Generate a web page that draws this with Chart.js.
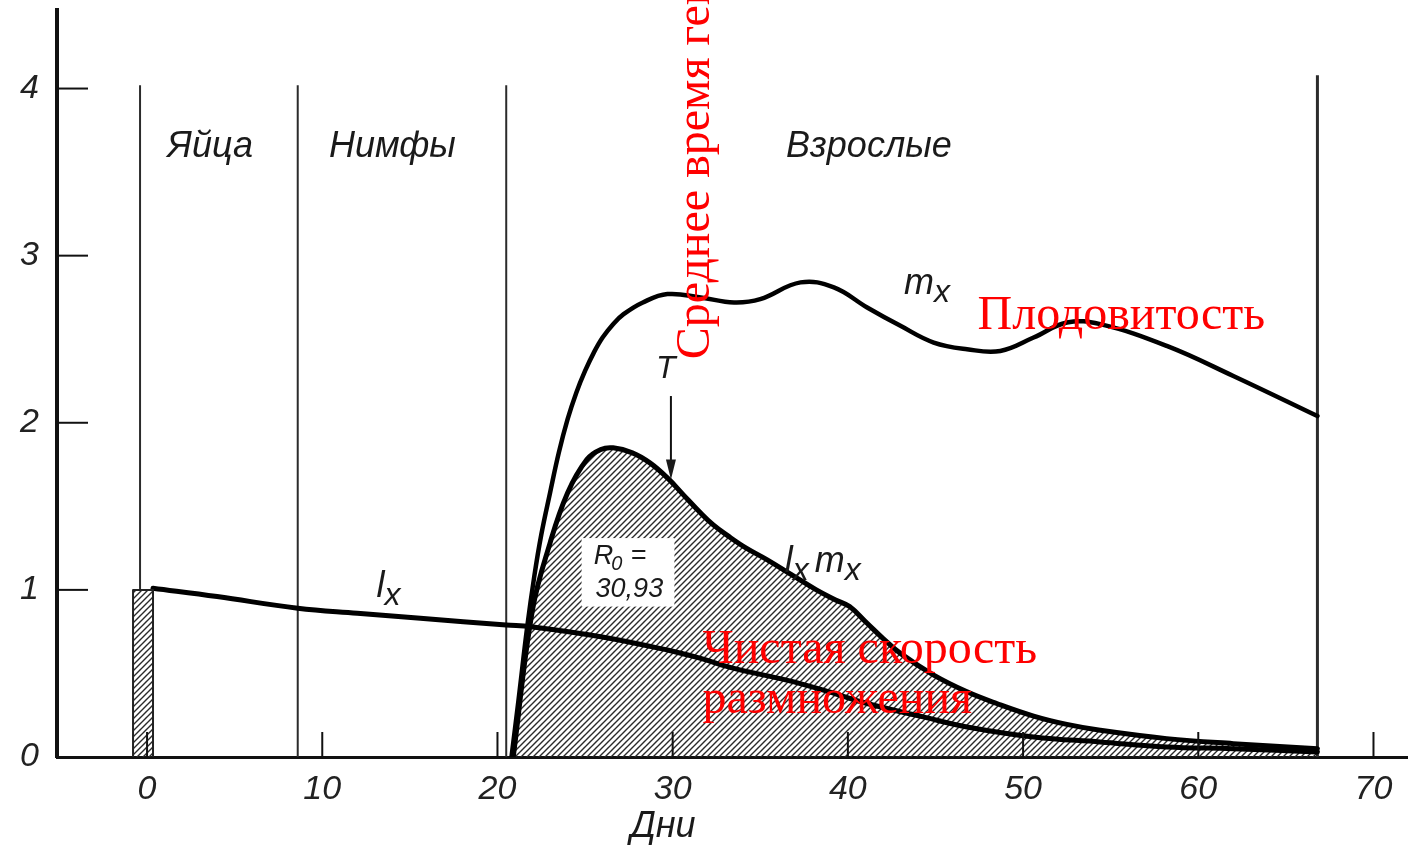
<!DOCTYPE html>
<html lang="ru">
<head>
    <meta charset="UTF-8">
    <title>Таблица выживания и плодовитости</title>
    <script src="https://cdn.jsdelivr.net/npm/chart.js"></script>
    <style>
        * { margin: 0; padding: 0; box-sizing: border-box; }
        body { background: #fff; width: 1408px; height: 846px; overflow: hidden; }
        canvas { display: block; }
    </style>
</head>
<body>
    <canvas id="grafico" width="1408" height="846"></canvas>

    <script>
        // данные
        const xTicks = [0, 10, 20, 30, 40, 50, 60, 70];
        const yTicks = [0, 1, 2, 3, 4];

        const lxDays = [0.34, 4, 8.6, 12, 15.6, 20.5, 21.9, 25.9, 29.7, 31.6, 33.5, 36.5, 38.6, 41.1, 44.3, 46.8, 50.6, 54.4, 58.2, 62, 66.8];
        const lxVals = [1.01, 0.96, 0.89, 0.86, 0.83, 0.79, 0.78, 0.72, 0.64, 0.59, 0.53, 0.46, 0.40, 0.32, 0.24, 0.18, 0.12, 0.09, 0.06, 0.05, 0.03];

        const mxDays = [20.8, 21.2, 21.7, 22.1, 22.5, 23.0, 23.5, 24.0, 24.5, 25.0, 25.5, 26.0, 26.6, 27.2, 28.3, 29.7, 31.6, 33.5, 35.0, 37.3, 39.2, 41.1, 43.0, 44.9, 46.8, 48.7, 50.6, 52.5, 54.4, 58.2, 62.0, 66.8];
        const mxVals = [0, 0.34, 0.78, 1.08, 1.33, 1.58, 1.82, 2.02, 2.18, 2.31, 2.42, 2.51, 2.59, 2.65, 2.72, 2.77, 2.75, 2.72, 2.74, 2.84, 2.81, 2.69, 2.58, 2.48, 2.44, 2.43, 2.51, 2.60, 2.59, 2.46, 2.28, 2.04];

        const lxmxDays = [20.9, 22.0, 23.0, 24.0, 25.1, 25.9, 26.6, 27.7, 28.7, 29.7, 30.6, 31.5, 32.3, 33.2, 34.2, 35.4, 36.8, 38.2, 39.3, 40.1, 41.1, 42.0, 43.0, 44.9, 46.8, 48.5, 50.6, 52.5, 54.4, 58.2, 62.0, 66.8];
        const lxmxVals = [0, 0.88, 1.28, 1.58, 1.78, 1.84, 1.85, 1.82, 1.76, 1.67, 1.57, 1.47, 1.39, 1.32, 1.25, 1.18, 1.09, 1.00, 0.94, 0.90, 0.80, 0.71, 0.62, 0.49, 0.39, 0.32, 0.245, 0.195, 0.16, 0.11, 0.08, 0.05];

        // столбик яиц (день 0)
        const eggDays = [-0.8, -0.8, 0.34, 0.34];
        const eggVals = [0, 1, 1, 0];

        // границы стадий
        const stageDays = [-0.4, 8.6, 20.5, 66.8];
        const stageTop = [4.02, 4.02, 4.02, 4.08];
        const stageBottom = [1, 0, 0, 0];

        const stageNames = ['Яйца', 'Нимфы', 'Взрослые'];
        const stageNameX = [3.6, 14.0, 41.2];

        const toPoints = (xs, ys) => xs.map((x, i) => ({ x: x, y: ys[i] }));

        // штриховка
        function hatch() {
            const c = document.createElement('canvas');
            c.width = 6; c.height = 6;
            const g = c.getContext('2d');
            g.strokeStyle = '#2a2a2a';
            g.lineWidth = 1.4;
            g.beginPath();
            g.moveTo(0, 6); g.lineTo(6, 0);
            g.moveTo(-1, 1); g.lineTo(1, -1);
            g.moveTo(5, 7); g.lineTo(7, 5);
            g.stroke();
            return g.createPattern(c, 'repeat');
        }
        const pattern = hatch();

        const labelFont = '"Liberation Sans", Arial, sans-serif';
        const redFont = '48px "Liberation Serif", "Times New Roman", serif';

        const decor = {
            id: 'decor',
            beforeDatasetsDraw(chart) {
                const ctx = chart.ctx, x = chart.scales.x, y = chart.scales.y;
                ctx.save();
                ctx.strokeStyle = '#2b2b2b';
                stageDays.forEach((d, i) => {
                    ctx.lineWidth = i === 3 ? 3 : 2;
                    ctx.beginPath();
                    ctx.moveTo(x.getPixelForValue(d), y.getPixelForValue(stageBottom[i]));
                    ctx.lineTo(x.getPixelForValue(d), y.getPixelForValue(stageTop[i]));
                    ctx.stroke();
                });
                ctx.restore();
            },
            afterDatasetsDraw(chart) {
                const ctx = chart.ctx, x = chart.scales.x, y = chart.scales.y;
                const px = v => x.getPixelForValue(v), py = v => y.getPixelForValue(v);
                ctx.save();

                // засечки внутрь
                ctx.strokeStyle = '#111';
                ctx.lineWidth = 2;
                yTicks.slice(1).forEach(v => {
                    ctx.beginPath();
                    ctx.moveTo(chart.chartArea.left, py(v));
                    ctx.lineTo(chart.chartArea.left + 31, py(v));
                    ctx.stroke();
                });
                xTicks.forEach(v => {
                    ctx.beginPath();
                    ctx.moveTo(px(v), chart.chartArea.bottom);
                    ctx.lineTo(px(v), chart.chartArea.bottom - 25);
                    ctx.stroke();
                });

                // окно R0
                ctx.fillStyle = '#fff';
                ctx.fillRect(px(24.8), py(1.31), px(30.1) - px(24.8), py(0.90) - py(1.31));

                ctx.fillStyle = '#1a1a1a';
                ctx.textBaseline = 'middle';
                ctx.textAlign = 'center';
                ctx.font = 'italic 36px ' + labelFont;
                stageNames.forEach((n, i) => ctx.fillText(n, px(stageNameX[i]), py(3.65)));
                ctx.fillText('Дни', px(29.45), py(-0.42));

                ctx.font = 'italic 32px ' + labelFont;
                ctx.fillText('T', px(29.6), py(2.32));

                ctx.textAlign = 'left';
                ctx.font = 'italic 27px ' + labelFont;
                ctx.fillText('R', px(25.5), py(1.20));
                ctx.font = 'italic 20px ' + labelFont;
                ctx.fillText('0', px(26.5), py(1.15));
                ctx.font = 'italic 27px ' + labelFont;
                ctx.fillText('=', px(27.6), py(1.20));
                ctx.fillText('30,93', px(25.6), py(1.00));

                // подписи кривых
                ctx.textBaseline = 'alphabetic';
                function sub(main, s, xv, yv) {
                    ctx.font = 'italic 36px ' + labelFont;
                    ctx.fillText(main, px(xv), py(yv));
                    const w = ctx.measureText(main).width;
                    ctx.font = 'italic 32px ' + labelFont;
                    ctx.fillText(s, px(xv) + w, py(yv) + 8);
                    return w + ctx.measureText(s).width;
                }
                sub('m', 'x', 43.2, 2.77);
                sub('l', 'x', 13.1, 0.96);
                const w = sub('l', 'x', 36.4, 1.11);
                ctx.save();
                ctx.translate(w + 6, 0);
                sub('m', 'x', 36.4, 1.11);
                ctx.restore();

                // стрелка T
                const ax = px(29.9);
                ctx.lineWidth = 2;
                ctx.beginPath();
                ctx.moveTo(ax, py(2.16));
                ctx.lineTo(ax, py(1.72));
                ctx.stroke();
                ctx.beginPath();
                ctx.moveTo(ax - 5, py(1.78));
                ctx.lineTo(ax, py(1.66));
                ctx.lineTo(ax + 5, py(1.78));
                ctx.closePath();
                ctx.fill();

                ctx.restore();
            },
            afterDraw(chart) {
                const ctx = chart.ctx, x = chart.scales.x, y = chart.scales.y;
                const px = v => x.getPixelForValue(v), py = v => y.getPixelForValue(v);
                ctx.save();
                ctx.fillStyle = '#ff0000';
                ctx.font = redFont;
                ctx.textAlign = 'left';
                ctx.textBaseline = 'alphabetic';
                ctx.fillText('Плодовитость', px(47.4), py(2.56));
                ctx.fillText('Чистая скорость', px(31.7), py(0.563));
                ctx.fillText('размножения', px(31.7), py(0.263));
                ctx.translate(px(32.1), py(2.38));
                ctx.rotate(-Math.PI / 2);
                ctx.fillText('Среднее время генерации', 0, 0);
                ctx.restore();
            }
        };

        const line = (pts, width) => ({
            data: pts,
            borderColor: '#000',
            borderWidth: width,
            borderJoinStyle: 'round',
            borderCapStyle: 'round',
            tension: 0.4,
            pointRadius: 0,
            fill: false
        });

        const lxmxSet = line(toPoints(lxmxDays, lxmxVals), 5);
        lxmxSet.fill = 'origin';
        lxmxSet.backgroundColor = pattern;
        lxmxSet.order = 3;

        const eggSet = line(toPoints(eggDays, eggVals), 2);
        eggSet.tension = 0;
        eggSet.fill = 'origin';
        eggSet.backgroundColor = pattern;
        eggSet.borderColor = '#222';

        const lxSet = line(toPoints(lxDays, lxVals), 5);
        lxSet.order = 1;
        const mxSet = line(toPoints(mxDays, mxVals), 4.5);
        mxSet.order = 2;

        new Chart(document.getElementById('grafico'), {
            type: 'line',
            data: { datasets: [lxSet, mxSet, lxmxSet, eggSet] },
            options: {
                responsive: false,
                animation: false,
                layout: { padding: { top: 10, left: 0, right: 0, bottom: 0 } },
                plugins: { legend: { display: false }, tooltip: { enabled: false } },
                scales: {
                    x: {
                        type: 'linear',
                        min: -5.14,
                        max: 71.97,
                        afterFit(s) { s.height = 89; },
                        afterBuildTicks(s) { s.ticks = xTicks.map(v => ({ value: v })); },
                        grid: { display: false, drawTicks: false },
                        border: { display: true, color: '#111', width: 3 },
                        ticks: {
                            padding: 12,
                            color: '#222',
                            maxRotation: 0,
                            autoSkip: false,
                            font: { family: labelFont, style: 'italic', size: 34 }
                        }
                    },
                    y: {
                        min: 0,
                        max: 4.47,
                        afterFit(s) { s.width = 57; s.paddingTop = 0; s.paddingBottom = 0; },
                        afterBuildTicks(s) { s.ticks = yTicks.map(v => ({ value: v })); },
                        grid: { display: false, drawTicks: false },
                        border: { display: true, color: '#111', width: 4 },
                        ticks: {
                            padding: 18,
                            color: '#222',
                            font: { family: labelFont, style: 'italic', size: 34 }
                        }
                    }
                }
            },
            plugins: [decor]
        });
    </script>
</body>
</html>
